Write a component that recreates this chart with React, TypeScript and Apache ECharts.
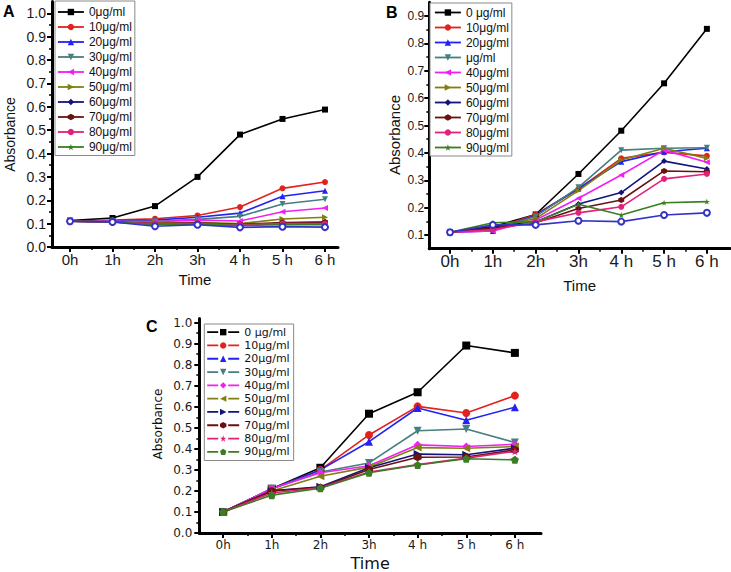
import React, { useEffect, useRef } from "react";
import * as echarts from "echarts";

// ---------- data ----------
const timeLabels = ["0h", "1h", "2h", "3h", "4 h", "5 h", "6 h"];

const legendA = ["0μg/ml", "10μg/ml", "20μg/ml", "30μg/ml", "40μg/ml", "50μg/ml", "60μg/ml", "70μg/ml", "80μg/ml", "90μg/ml"];
const legendB = ["0 μg/ml", "10μg/ml", "20μg/ml", "μg/ml", "40μg/ml", "50μg/ml", "60μg/ml", "70μg/ml", "80μg/ml", "90μg/ml"];
const legendC = ["0 μg/ml", "10μg/ml", "20μg/ml", "30μg/ml", "40μg/ml", "50μg/ml", "60μg/ml", "70μg/ml", "80μg/ml", "90μg/ml"];

// Panel A
const a0 = [0.113, 0.124, 0.175, 0.300, 0.481, 0.548, 0.588];
const a10 = [0.110, 0.115, 0.121, 0.135, 0.171, 0.251, 0.278];
const a20 = [0.110, 0.112, 0.115, 0.127, 0.145, 0.217, 0.241];
const a30 = [0.110, 0.110, 0.110, 0.118, 0.131, 0.184, 0.204];
const a40 = [0.110, 0.110, 0.108, 0.115, 0.111, 0.151, 0.167];
const a50 = [0.110, 0.108, 0.105, 0.105, 0.100, 0.120, 0.127];
const a60 = [0.110, 0.107, 0.098, 0.100, 0.092, 0.102, 0.106];
const a70 = [0.110, 0.107, 0.100, 0.102, 0.097, 0.105, 0.107];
const a80 = [0.110, 0.107, 0.100, 0.100, 0.095, 0.100, 0.100];
const a90 = [0.110, 0.107, 0.097, 0.098, 0.092, 0.095, 0.095];
const aExtra = [0.110, 0.107, 0.089, 0.095, 0.084, 0.087, 0.085];

// Panel B
const b0 = [0.110, 0.130, 0.175, 0.323, 0.481, 0.654, 0.853];
const b10 = [0.110, 0.122, 0.175, 0.268, 0.380, 0.402, 0.389];
const b20 = [0.110, 0.115, 0.172, 0.270, 0.368, 0.404, 0.417];
const b30 = [0.110, 0.120, 0.168, 0.274, 0.410, 0.417, 0.419];
const b40 = [0.110, 0.115, 0.155, 0.234, 0.319, 0.410, 0.366];
const b50 = [0.110, 0.125, 0.160, 0.262, 0.374, 0.417, 0.380];
const b60 = [0.110, 0.130, 0.148, 0.213, 0.255, 0.370, 0.341];
const b70 = [0.110, 0.125, 0.145, 0.197, 0.228, 0.334, 0.331];
const b80 = [0.110, 0.120, 0.148, 0.181, 0.203, 0.305, 0.323];
const b90 = [0.110, 0.145, 0.148, 0.212, 0.173, 0.218, 0.222];
const bExtra = [0.110, 0.137, 0.137, 0.152, 0.149, 0.173, 0.181];

// Panel C
const c0 = [0.100, 0.210, 0.310, 0.567, 0.669, 0.891, 0.856];
const c10 = [0.100, 0.210, 0.300, 0.466, 0.602, 0.570, 0.653];
const c20 = [0.100, 0.210, 0.300, 0.434, 0.594, 0.536, 0.598];
const c30 = [0.100, 0.210, 0.290, 0.333, 0.486, 0.494, 0.430];
const c40 = [0.100, 0.210, 0.286, 0.320, 0.419, 0.411, 0.422];
const c50 = [0.100, 0.200, 0.270, 0.313, 0.406, 0.403, 0.411];
const c60 = [0.100, 0.200, 0.220, 0.310, 0.375, 0.372, 0.403];
const c70 = [0.100, 0.200, 0.216, 0.302, 0.360, 0.361, 0.395];
const c80 = [0.100, 0.190, 0.215, 0.290, 0.325, 0.356, 0.388];
const c90 = [0.100, 0.180, 0.213, 0.286, 0.323, 0.353, 0.348];

// ticks
const xMajor = [0, 1, 2, 3, 4, 5, 6];
const xMinor = [0.5, 1.5, 2.5, 3.5, 4.5, 5.5];
const yMajorAC = [0, 0.1, 0.2, 0.3, 0.4, 0.5, 0.6, 0.7, 0.8, 0.9, 1.0];
const yMinorAC = [0.05, 0.15, 0.25, 0.35, 0.45, 0.55, 0.65, 0.75, 0.85, 0.95];
const yMajorB = [0.1, 0.2, 0.3, 0.4, 0.5, 0.6, 0.7, 0.8, 0.9];
const yMinorB = [0.15, 0.25, 0.35, 0.45, 0.55, 0.65, 0.75, 0.85];

// ---------- styles ----------
const COL = {
  black: "#000000",
  red: "#e3221c",
  blue: "#2222f2",
  teal: "#457f7f",
  magenta: "#f21ff2",
  olive: "#7f7f12",
  navy: "#13137c",
  maroon: "#6a1212",
  pink: "#e3217a",
  green: "#3b7d22",
  extra: "#3333c8",
};

const SYM = {
  square: "rect",
  circle: "circle",
  up: "triangle",
  down: "path://M0,0 L10,0 L5,9 Z",
  left: "path://M9,0 L9,10 L0,5 Z",
  right: "path://M0,0 L0,10 L9,5 Z",
  diamond: "diamond",
  hex: "path://M5,0 L9.33,2.5 L9.33,7.5 L5,10 L0.67,7.5 L0.67,2.5 Z",
  star: "path://M5,0 L6.18,3.6 L10,3.6 L6.9,5.9 L8.1,9.5 L5,7.3 L1.9,9.5 L3.1,5.9 L0,3.6 L3.82,3.6 Z",
  pent: "path://M5,0 L10,3.8 L8.1,10 L1.9,10 L0,3.8 Z",
};

const SANS = "'Liberation Sans', Arial, sans-serif";
const DEJA = "'DejaVu Sans', Verdana, sans-serif";

function line(name: string, data: number[], idx: number, color: string, symbol: string, size: number) {
  return {
    type: "line",
    name,
    xAxisIndex: idx,
    yAxisIndex: idx,
    data: data.map((v, i) => [i, v]),
    symbol,
    symbolSize: size,
    showSymbol: true,
    lineStyle: { color, width: 1.6 },
    itemStyle: { color },
    emphasis: { disabled: true },
    silent: true,
    z: 3,
  };
}

function xAxisMain(g: number, min: number, max: number, o: any) {
  return {
    type: "value",
    gridIndex: g,
    min,
    max,
    position: "bottom",
    axisLine: { show: true, onZero: false, lineStyle: { color: "#000", width: 3 } },
    axisTick: { show: true, customValues: xMajor, length: 5, lineStyle: { color: "#000", width: 2 } },
    axisLabel: {
      show: true,
      customValues: xMajor,
      formatter: (v: number) => timeLabels[Math.round(v)],
      margin: o.labelMargin,
      fontSize: o.labelSize,
      fontFamily: o.family,
      color: "#1a1a1a",
    },
    splitLine: { show: false },
    name: "Time",
    nameLocation: "middle",
    nameGap: o.nameGap,
    nameTextStyle: { fontSize: o.nameSize, fontFamily: o.family, color: "#111" },
  };
}

function xAxisMinor(g: number, min: number, max: number) {
  return {
    type: "value",
    gridIndex: g,
    min,
    max,
    position: "bottom",
    axisLine: { show: false, onZero: false },
    axisTick: { show: true, customValues: xMinor, length: 3, lineStyle: { color: "#000", width: 1.5 } },
    axisLabel: { show: false },
    splitLine: { show: false },
  };
}

function yAxisMain(g: number, min: number, max: number, ticks: number[], o: any) {
  return {
    type: "value",
    gridIndex: g,
    min,
    max,
    position: "left",
    axisLine: { show: true, onZero: false, lineStyle: { color: "#000", width: 3 } },
    axisTick: { show: true, customValues: ticks, length: 5, lineStyle: { color: "#000", width: 2 } },
    axisLabel: {
      show: true,
      customValues: ticks,
      formatter: (v: number) => v.toFixed(1),
      margin: o.labelMargin,
      fontSize: o.labelSize,
      fontFamily: o.family,
      color: "#1a1a1a",
    },
    splitLine: { show: false },
  };
}

function yAxisMinor(g: number, min: number, max: number, ticks: number[]) {
  return {
    type: "value",
    gridIndex: g,
    min,
    max,
    position: "left",
    axisLine: { show: false, onZero: false },
    axisTick: { show: true, customValues: ticks, length: 3, lineStyle: { color: "#000", width: 1.5 } },
    axisLabel: { show: false },
    splitLine: { show: false },
  };
}

function legend(names: string[], prefix: string, o: any) {
  return {
    show: true,
    orient: "vertical",
    left: o.left,
    top: o.top,
    padding: o.padding,
    itemWidth: o.itemWidth,
    itemHeight: 8,
    itemGap: 0,
    selectedMode: false,
    borderColor: "#8a8a8a",
    borderWidth: 1,
    backgroundColor: "#ffffff",
    data: names.map((n) => prefix + n),
    formatter: (n: string) => n.slice(prefix.length),
    textStyle: { fontSize: o.fontSize, fontFamily: o.family, color: "#111", lineHeight: o.lineHeight },
    lineStyle: { type: o.lineType || "solid", width: 1.8 },
    z: 10,
  };
}

function yTitle(x: number, y: number, font: string) {
  return {
    type: "text",
    x,
    y,
    rotation: Math.PI / 2,
    style: { text: "Absorbance", x: 0, y: 0, align: "center", verticalAlign: "middle", font, fill: "#111" },
  };
}

export default function App() {
  const ref = useRef<HTMLDivElement>(null);
  useEffect(() => {
    const chart = echarts.init(ref.current!, null, { renderer: "svg" });

    const colorsAB = [COL.black, COL.red, COL.blue, COL.teal, COL.magenta, COL.olive, COL.navy, COL.maroon, COL.pink, COL.green];
    const symAB = [SYM.square, SYM.circle, SYM.up, SYM.down, SYM.left, SYM.right, SYM.diamond, SYM.hex, SYM.circle, SYM.star];
    const symC = [SYM.square, SYM.circle, SYM.up, SYM.down, SYM.diamond, SYM.left, SYM.right, SYM.hex, SYM.star, SYM.pent];

    const dataA = [a0, a10, a20, a30, a40, a50, a60, a70, a80, a90];
    const dataB = [b0, b10, b20, b30, b40, b50, b60, b70, b80, b90];
    const dataC = [c0, c10, c20, c30, c40, c50, c60, c70, c80, c90];

    const series: any[] = [];
    legendA.forEach((n, i) => series.push(line("A|" + n, dataA[i], 0, colorsAB[i], symAB[i], 6)));
    series.push({ ...line("A|extra", aExtra, 0, COL.extra, "emptyCircle", 6), itemStyle: { color: COL.extra, borderWidth: 1.5 } });
    legendB.forEach((n, i) => series.push(line("B|" + n, dataB[i], 1, colorsAB[i], symAB[i], 6)));
    series.push({ ...line("B|extra", bExtra, 1, COL.extra, "emptyCircle", 6), itemStyle: { color: COL.extra, borderWidth: 1.5 } });
    legendC.forEach((n, i) => series.push(line("C|" + n, dataC[i], 2, colorsAB[i], symC[i], 8)));

    const option: any = {
      animation: false,
      backgroundColor: "#ffffff",
      grid: [
        { left: 52, top: 1.6, width: 286, height: 245.4, containLabel: false },
        { left: 429.3, top: 2.3, width: 300.7, height: 246.4, containLabel: false },
        { left: 199.3, top: 318.4, width: 341.7, height: 217.6, containLabel: false },
      ],
      xAxis: [
        xAxisMain(0, -0.424, 6.306, { labelMargin: 5, labelSize: 15, family: SANS, nameGap: 25, nameSize: 15 }),
        xAxisMain(1, -0.484, 6.54, { labelMargin: 4, labelSize: 17, family: SANS, nameGap: 29, nameSize: 15 }),
        xAxisMain(2, -0.49, 6.537, { labelMargin: 6, labelSize: 12, family: DEJA, nameGap: 22, nameSize: 16 }),
        xAxisMinor(0, -0.424, 6.306),
        xAxisMinor(1, -0.484, 6.54),
        xAxisMinor(2, -0.49, 6.537),
      ],
      yAxis: [
        yAxisMain(0, 0, 1.05, yMajorAC, { labelMargin: 6, labelSize: 14, family: SANS }),
        yAxisMain(1, 0.05, 0.95, yMajorB, { labelMargin: 5, labelSize: 12, family: SANS }),
        yAxisMain(2, 0, 1.02, yMajorAC, { labelMargin: 7, labelSize: 12, family: DEJA }),
        yAxisMinor(0, 0, 1.05, yMinorAC),
        yAxisMinor(1, 0.05, 0.95, yMinorB),
        yAxisMinor(2, 0, 1.02, yMinorAC),
      ],
      legend: [
        legend(legendA, "A|", { left: 55, top: 1, padding: [3.5, 3, 1, 2], itemWidth: 26, fontSize: 12, family: SANS, lineHeight: 15 }),
        legend(legendB, "B|", { left: 430, top: 3, padding: [2, 3, 1, 4], itemWidth: 26, fontSize: 12, family: SANS, lineHeight: 15 }),
        legend(legendC, "C|", { left: 204.3, top: 324, padding: [1.5, 4, 2, 2], itemWidth: 32, fontSize: 11, family: DEJA, lineHeight: 13.3, lineType: [11, 10] }),
      ],
      graphic: [
        { type: "text", left: 3, top: 3, style: { text: "A", font: "bold 16px 'Liberation Sans', Arial", fill: "#000" } },
        { type: "text", left: 386, top: 4, style: { text: "B", font: "bold 16px 'Liberation Sans', Arial", fill: "#000" } },
        { type: "text", left: 146, top: 318, style: { text: "C", font: "bold 16px 'Liberation Sans', Arial", fill: "#000" } },
        yTitle(10, 134.5, "14px 'Liberation Sans', Arial"),
        yTitle(394, 135, "15px 'Liberation Sans', Arial"),
        yTitle(158, 424, "12px 'DejaVu Sans', Verdana"),
      ],
      series,
    };
    chart.setOption(option);
    return () => chart.dispose();
  }, []);
  return (
    <div
      ref={ref}
      style={{ position: "fixed", left: 0, top: 0, width: 731, height: 572, background: "#fff" }}
    />
  );
}
